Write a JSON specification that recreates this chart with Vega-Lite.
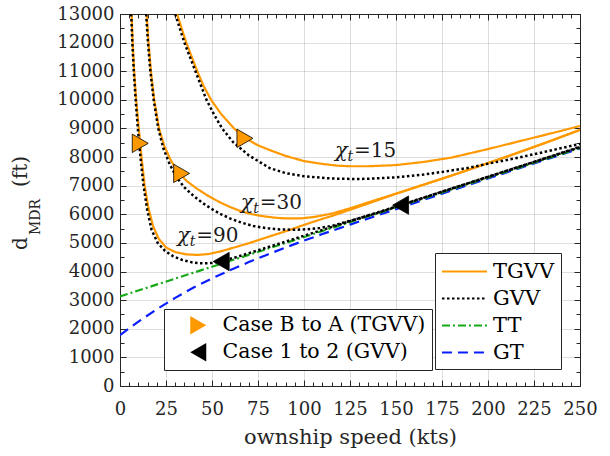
{
  "$schema": "https://vega.github.io/schema/vega-lite/v6.json",
  "width": 460,
  "height": 372,
  "autosize": "none",
  "padding": {"left": 120, "top": 14, "right": 30, "bottom": 70},
  "background": "white",
  "config": {
    "font": "DejaVu Serif",
    "view": {"stroke": "#262626", "strokeWidth": 1},
    "axis": {
      "labelFont": "DejaVu Serif", "labelFontSize": 18, "labelColor": "#262626",
      "domainColor": "#262626", "tickColor": "#262626", "gridColor": "#000000",
      "titleFont": "DejaVu Serif", "titleFontSize": 21, "titleFontWeight": "normal", "titleColor": "#262626",
      "labelOverlap": false, "labelFlush": false
    },
    "legend": {"labelFont": "DejaVu Serif", "labelColor": "#000000", "labelFontSize": 20.5, "labelLimit": 400}
  },
  "datasets": {
    "curves": [
      {"s":"GT","c":"GT","x":0,"y":1780},{"s":"GT","c":"GT","x":10,"y":2250},{"s":"GT","c":"GT","x":20,"y":2680},{"s":"GT","c":"GT","x":30,"y":3080},{"s":"GT","c":"GT","x":40,"y":3440},{"s":"GT","c":"GT","x":50,"y":3760},{"s":"GT","c":"GT","x":60,"y":4050},{"s":"GT","c":"GT","x":70,"y":4330},{"s":"GT","c":"GT","x":80,"y":4590},{"s":"GT","c":"GT","x":90,"y":4840},{"s":"GT","c":"GT","x":100,"y":5080},{"s":"GT","c":"GT","x":110,"y":5310},{"s":"GT","c":"GT","x":125,"y":5640},{"s":"GT","c":"GT","x":150,"y":6180},{"s":"GT","c":"GT","x":175,"y":6720},{"s":"GT","c":"GT","x":200,"y":7250},{"s":"GT","c":"GT","x":225,"y":7780},{"s":"GT","c":"GT","x":250,"y":8300},
      {"s":"TT","c":"TT","x":0,"y":3130},{"s":"TT","c":"TT","x":250,"y":8320},
      {"s":"TGVV","c":"T15","x":31,"y":13000},{"s":"TGVV","c":"T15","x":33.5,"y":12500},{"s":"TGVV","c":"T15","x":36,"y":12000},{"s":"TGVV","c":"T15","x":39,"y":11500},{"s":"TGVV","c":"T15","x":42,"y":11000},{"s":"TGVV","c":"T15","x":45.3,"y":10500},{"s":"TGVV","c":"T15","x":49.5,"y":10000},{"s":"TGVV","c":"T15","x":55,"y":9500},{"s":"TGVV","c":"T15","x":62,"y":9000},{"s":"TGVV","c":"T15","x":68,"y":8660},{"s":"TGVV","c":"T15","x":75,"y":8410},{"s":"TGVV","c":"T15","x":82,"y":8230},{"s":"TGVV","c":"T15","x":90,"y":8040},{"s":"TGVV","c":"T15","x":100,"y":7860},{"s":"TGVV","c":"T15","x":110,"y":7760},{"s":"TGVV","c":"T15","x":118,"y":7700},{"s":"TGVV","c":"T15","x":125,"y":7680},{"s":"TGVV","c":"T15","x":135,"y":7680},{"s":"TGVV","c":"T15","x":150,"y":7720},{"s":"TGVV","c":"T15","x":165,"y":7830},{"s":"TGVV","c":"T15","x":180,"y":7980},{"s":"TGVV","c":"T15","x":190,"y":8130},{"s":"TGVV","c":"T15","x":200,"y":8280},{"s":"TGVV","c":"T15","x":215,"y":8520},{"s":"TGVV","c":"T15","x":230,"y":8760},{"s":"TGVV","c":"T15","x":240,"y":8920},{"s":"TGVV","c":"T15","x":250,"y":9085},
      {"s":"TGVV","c":"T30","x":14.5,"y":13000},{"s":"TGVV","c":"T30","x":15.5,"y":12000},{"s":"TGVV","c":"T30","x":16.8,"y":11000},{"s":"TGVV","c":"T30","x":18.6,"y":10000},{"s":"TGVV","c":"T30","x":21.2,"y":9000},{"s":"TGVV","c":"T30","x":24,"y":8400},{"s":"TGVV","c":"T30","x":27.5,"y":7900},{"s":"TGVV","c":"T30","x":31.5,"y":7480},{"s":"TGVV","c":"T30","x":36.5,"y":7150},{"s":"TGVV","c":"T30","x":41.7,"y":6900},{"s":"TGVV","c":"T30","x":48,"y":6640},{"s":"TGVV","c":"T30","x":54.3,"y":6420},{"s":"TGVV","c":"T30","x":60,"y":6250},{"s":"TGVV","c":"T30","x":65.2,"y":6120},{"s":"TGVV","c":"T30","x":70,"y":6030},{"s":"TGVV","c":"T30","x":76,"y":5950},{"s":"TGVV","c":"T30","x":83,"y":5890},{"s":"TGVV","c":"T30","x":90,"y":5855},{"s":"TGVV","c":"T30","x":98,"y":5855},{"s":"TGVV","c":"T30","x":106,"y":5910},{"s":"TGVV","c":"T30","x":116,"y":6040},{"s":"TGVV","c":"T30","x":126,"y":6230},{"s":"TGVV","c":"T30","x":136,"y":6440},{"s":"TGVV","c":"T30","x":150,"y":6720},{"s":"TGVV","c":"T30","x":160,"y":6930},{"s":"TGVV","c":"T30","x":170,"y":7140},{"s":"TGVV","c":"T30","x":180,"y":7350},{"s":"TGVV","c":"T30","x":190,"y":7570},{"s":"TGVV","c":"T30","x":200,"y":7790},{"s":"TGVV","c":"T30","x":210,"y":8010},{"s":"TGVV","c":"T30","x":220,"y":8240},{"s":"TGVV","c":"T30","x":230,"y":8470},{"s":"TGVV","c":"T30","x":240,"y":8710},{"s":"TGVV","c":"T30","x":250,"y":8950},
      {"s":"TGVV","c":"T90","x":6.3,"y":13000},{"s":"TGVV","c":"T90","x":6.9,"y":12000},{"s":"TGVV","c":"T90","x":7.7,"y":11000},{"s":"TGVV","c":"T90","x":8.8,"y":10000},{"s":"TGVV","c":"T90","x":10.2,"y":9000},{"s":"TGVV","c":"T90","x":11.7,"y":8000},{"s":"TGVV","c":"T90","x":13.4,"y":7000},{"s":"TGVV","c":"T90","x":15.5,"y":6200},{"s":"TGVV","c":"T90","x":18,"y":5580},{"s":"TGVV","c":"T90","x":21,"y":5150},{"s":"TGVV","c":"T90","x":25,"y":4840},{"s":"TGVV","c":"T90","x":30,"y":4680},{"s":"TGVV","c":"T90","x":36,"y":4600},{"s":"TGVV","c":"T90","x":42,"y":4580},{"s":"TGVV","c":"T90","x":48,"y":4610},{"s":"TGVV","c":"T90","x":55,"y":4710},{"s":"TGVV","c":"T90","x":62,"y":4840},{"s":"TGVV","c":"T90","x":70,"y":4990},{"s":"TGVV","c":"T90","x":80,"y":5200},{"s":"TGVV","c":"T90","x":92,"y":5450},{"s":"TGVV","c":"T90","x":100,"y":5630},{"s":"TGVV","c":"T90","x":108,"y":5800},{"s":"TGVV","c":"T90","x":116,"y":5960},{"s":"TGVV","c":"T90","x":126,"y":6180},{"s":"TGVV","c":"T90","x":136,"y":6400},{"s":"TGVV","c":"T90","x":150,"y":6720},{"s":"TGVV","c":"T90","x":160,"y":6930},{"s":"TGVV","c":"T90","x":170,"y":7140},{"s":"TGVV","c":"T90","x":180,"y":7350},{"s":"TGVV","c":"T90","x":190,"y":7570},{"s":"TGVV","c":"T90","x":200,"y":7790},{"s":"TGVV","c":"T90","x":210,"y":8010},{"s":"TGVV","c":"T90","x":220,"y":8240},{"s":"TGVV","c":"T90","x":230,"y":8470},{"s":"TGVV","c":"T90","x":240,"y":8710},{"s":"TGVV","c":"T90","x":250,"y":8950},
      {"s":"GVV","c":"G15","x":30,"y":13000},{"s":"GVV","c":"G15","x":32.5,"y":12500},{"s":"GVV","c":"G15","x":35,"y":12000},{"s":"GVV","c":"G15","x":38,"y":11500},{"s":"GVV","c":"G15","x":41,"y":11000},{"s":"GVV","c":"G15","x":44,"y":10500},{"s":"GVV","c":"G15","x":47,"y":10000},{"s":"GVV","c":"G15","x":51,"y":9500},{"s":"GVV","c":"G15","x":55.5,"y":9000},{"s":"GVV","c":"G15","x":61.5,"y":8520},{"s":"GVV","c":"G15","x":70,"y":8060},{"s":"GVV","c":"G15","x":81.5,"y":7610},{"s":"GVV","c":"G15","x":90,"y":7440},{"s":"GVV","c":"G15","x":100,"y":7330},{"s":"GVV","c":"G15","x":115,"y":7250},{"s":"GVV","c":"G15","x":130,"y":7230},{"s":"GVV","c":"G15","x":150,"y":7290},{"s":"GVV","c":"G15","x":165,"y":7390},{"s":"GVV","c":"G15","x":175,"y":7480},{"s":"GVV","c":"G15","x":190,"y":7630},{"s":"GVV","c":"G15","x":200,"y":7770},{"s":"GVV","c":"G15","x":215,"y":7960},{"s":"GVV","c":"G15","x":230,"y":8170},{"s":"GVV","c":"G15","x":250,"y":8460},
      {"s":"GVV","c":"G30","x":14.2,"y":13000},{"s":"GVV","c":"G30","x":15.2,"y":12000},{"s":"GVV","c":"G30","x":16.5,"y":11000},{"s":"GVV","c":"G30","x":18.3,"y":10000},{"s":"GVV","c":"G30","x":20.8,"y":9000},{"s":"GVV","c":"G30","x":23.6,"y":8300},{"s":"GVV","c":"G30","x":27,"y":7750},{"s":"GVV","c":"G30","x":30.5,"y":7320},{"s":"GVV","c":"G30","x":35,"y":6940},{"s":"GVV","c":"G30","x":40,"y":6640},{"s":"GVV","c":"G30","x":45,"y":6390},{"s":"GVV","c":"G30","x":50,"y":6180},{"s":"GVV","c":"G30","x":55,"y":6000},{"s":"GVV","c":"G30","x":60,"y":5850},{"s":"GVV","c":"G30","x":66,"y":5710},{"s":"GVV","c":"G30","x":72.5,"y":5590},{"s":"GVV","c":"G30","x":80,"y":5510},{"s":"GVV","c":"G30","x":87,"y":5470},{"s":"GVV","c":"G30","x":95,"y":5460},{"s":"GVV","c":"G30","x":102,"y":5480},{"s":"GVV","c":"G30","x":108.7,"y":5520},{"s":"GVV","c":"G30","x":116,"y":5610},{"s":"GVV","c":"G30","x":122,"y":5720},{"s":"GVV","c":"G30","x":130,"y":5860},{"s":"GVV","c":"G30","x":140,"y":6050},{"s":"GVV","c":"G30","x":150,"y":6260},{"s":"GVV","c":"G30","x":160,"y":6470},{"s":"GVV","c":"G30","x":175,"y":6790},{"s":"GVV","c":"G30","x":200,"y":7310},{"s":"GVV","c":"G30","x":225,"y":7830},{"s":"GVV","c":"G30","x":250,"y":8360},
      {"s":"GVV","c":"G90","x":6.1,"y":13000},{"s":"GVV","c":"G90","x":6.7,"y":12000},{"s":"GVV","c":"G90","x":7.5,"y":11000},{"s":"GVV","c":"G90","x":8.5,"y":10000},{"s":"GVV","c":"G90","x":9.7,"y":9000},{"s":"GVV","c":"G90","x":11.1,"y":8000},{"s":"GVV","c":"G90","x":12.8,"y":7000},{"s":"GVV","c":"G90","x":14.8,"y":6150},{"s":"GVV","c":"G90","x":17.2,"y":5450},{"s":"GVV","c":"G90","x":20.5,"y":5000},{"s":"GVV","c":"G90","x":24.5,"y":4720},{"s":"GVV","c":"G90","x":29,"y":4530},{"s":"GVV","c":"G90","x":34,"y":4400},{"s":"GVV","c":"G90","x":40,"y":4310},{"s":"GVV","c":"G90","x":45,"y":4285},{"s":"GVV","c":"G90","x":50,"y":4300},{"s":"GVV","c":"G90","x":55,"y":4370},{"s":"GVV","c":"G90","x":62,"y":4480},{"s":"GVV","c":"G90","x":70,"y":4640},{"s":"GVV","c":"G90","x":80,"y":4840},{"s":"GVV","c":"G90","x":100,"y":5250},{"s":"GVV","c":"G90","x":125,"y":5760},{"s":"GVV","c":"G90","x":150,"y":6270},{"s":"GVV","c":"G90","x":175,"y":6790},{"s":"GVV","c":"G90","x":200,"y":7310},{"s":"GVV","c":"G90","x":225,"y":7830},{"s":"GVV","c":"G90","x":250,"y":8345}
    ],
    "markers": [
      {"k":"Case B to A (TGVV)","x":11,"y":8480},
      {"k":"Case B to A (TGVV)","x":33.5,"y":7430},
      {"k":"Case B to A (TGVV)","x":67.9,"y":8655},
      {"k":"Case 1 to 2 (GVV)","x":55,"y":4350},
      {"k":"Case 1 to 2 (GVV)","x":152.5,"y":6320}
    ],
    "labels": [
      {"chi":"χ","sub":"t","val":"=15","x":116.8,"y":8010},
      {"chi":"χ","sub":"t","val":"=30","x":65.6,"y":6200},
      {"chi":"χ","sub":"t","val":"=90","x":31.1,"y":5040}
    ]
  },
  "layer": [
    {
      "data": {"name": "curves"},
      "encoding": {
        "x": {"field": "x", "type": "quantitative", "scale": {"domain": [0, 250], "nice": false, "zero": false},
          "axis": {"orient": "bottom", "title": "ownship speed (kts)", "titlePadding": 6,
            "values": [0,5,10,15,20,25,30,35,40,45,50,55,60,65,70,75,80,85,90,95,100,105,110,115,120,125,130,135,140,145,150,155,160,165,170,175,180,185,190,195,200,205,210,215,220,225,230,235,240,245,250],
            "labelExpr": "datum.value % 25 === 0 ? datum.label : ''",
            "grid": true,
            "gridOpacity": {"condition": {"test": "datum.value % 25 === 0", "value": 0.13}, "value": 0},
            "tickSize": {"condition": {"test": "datum.value % 25 === 0", "value": -6}, "value": -4},
            "labelPadding": 20}},
        "y": {"field": "y", "type": "quantitative", "scale": {"domain": [0, 13000], "nice": false},
          "axis": {"orient": "left", "title": null, "format": "d",
            "values": [0,500,1000,1500,2000,2500,3000,3500,4000,4500,5000,5500,6000,6500,7000,7500,8000,8500,9000,9500,10000,10500,11000,11500,12000,12500,13000],
            "labelExpr": "datum.value % 1000 === 0 ? datum.label : ''",
            "grid": true,
            "gridOpacity": {"condition": {"test": "datum.value % 1000 === 0", "value": 0.13}, "value": 0},
            "tickSize": {"condition": {"test": "datum.value % 1000 === 0", "value": -6}, "value": -4},
            "labelPadding": 12}},
        "color": {"field": "s", "type": "nominal",
          "scale": {"domain": ["TGVV", "GVV", "TT", "GT"], "range": ["#FF9900", "#000000", "#17A817", "#0A1EFF"]},
          "legend": {"orient": "none", "legendX": 315, "legendY": 239, "title": null, "symbolType": "M-2,0H2", "symbolSize": 506, "symbolStrokeWidth": 2.2, "symbolOffset": 11, "padding": 6, "rowPadding": 4, "labelOffset": 16, "strokeColor": "#262626", "fillColor": "white", "labelFontSize": 21}},
        "strokeDash": {"field": "s", "type": "nominal",
          "scale": {"domain": ["TGVV", "GVV", "TT", "GT"], "range": [[1, 0], [2.5, 2.5], [8, 3, 2, 3], [10, 6]]},
          "legend": {"orient": "none", "legendX": 315, "legendY": 239, "title": null, "symbolType": "M-2,0H2", "symbolSize": 506, "symbolStrokeWidth": 2.2, "symbolOffset": 11, "padding": 6, "rowPadding": 4, "labelOffset": 16, "strokeColor": "#262626", "fillColor": "white", "labelFontSize": 21}},
        "detail": {"field": "c", "type": "nominal"}
      },
      "layer": [
        {"transform": [{"filter": "datum.s === 'GT'"}], "mark": {"type": "line", "strokeWidth": 2.2, "clip": true}},
        {"transform": [{"filter": "datum.s === 'TT'"}], "mark": {"type": "line", "strokeWidth": 2.2, "clip": true}},
        {"transform": [{"filter": "datum.s === 'TGVV'"}], "mark": {"type": "line", "strokeWidth": 2.2, "clip": true}},
        {"transform": [{"filter": "datum.s === 'GVV'"}], "mark": {"type": "line", "strokeWidth": 2.5, "clip": true}}
      ]
    },
    {
      "data": {"name": "markers"},
      "mark": {"type": "point", "filled": true, "stroke": "#000000", "strokeWidth": 0.8, "size": 340, "opacity": 1},
      "encoding": {
        "x": {"field": "x", "type": "quantitative", "scale": {"domain": [0, 250], "nice": false, "zero": false},
          "axis": {"orient": "top", "title": null, "labels": false, "grid": false, "domain": true,
            "values": [0,5,10,15,20,25,30,35,40,45,50,55,60,65,70,75,80,85,90,95,100,105,110,115,120,125,130,135,140,145,150,155,160,165,170,175,180,185,190,195,200,205,210,215,220,225,230,235,240,245,250],
            "tickSize": {"condition": {"test": "datum.value % 25 === 0", "value": -6}, "value": -4}}},
        "y": {"field": "y", "type": "quantitative", "scale": {"domain": [0, 13000], "nice": false},
          "axis": {"orient": "right", "title": null, "labels": false, "grid": false, "domain": true,
            "values": [0,500,1000,1500,2000,2500,3000,3500,4000,4500,5000,5500,6000,6500,7000,7500,8000,8500,9000,9500,10000,10500,11000,11500,12000,12500,13000],
            "tickSize": {"condition": {"test": "datum.value % 1000 === 0", "value": -6}, "value": -4}}},
        "shape": {"field": "k", "type": "nominal",
          "scale": {"domain": ["Case B to A (TGVV)", "Case 1 to 2 (GVV)"], "range": ["triangle-right", "triangle-left"]},
          "legend": {"orient": "none", "legendX": 44, "legendY": 295, "title": null, "symbolSize": 340, "symbolStrokeColor": "#000000", "symbolStrokeWidth": 0.8, "padding": 6, "rowPadding": 4, "labelOffset": 14, "symbolOffset": 18, "strokeColor": "#262626", "fillColor": "white", "labelFontSize": 20.5, "labelLimit": 400}},
        "fill": {"field": "k", "type": "nominal",
          "scale": {"domain": ["Case B to A (TGVV)", "Case 1 to 2 (GVV)"], "range": ["#FF9900", "#000000"]},
          "legend": {"orient": "none", "legendX": 44, "legendY": 295, "title": null, "symbolSize": 340, "symbolStrokeColor": "#000000", "symbolStrokeWidth": 0.8, "padding": 6, "rowPadding": 4, "labelOffset": 14, "symbolOffset": 18, "strokeColor": "#262626", "fillColor": "white", "labelFontSize": 20.5, "labelLimit": 400}}
      }
    },
    {
      "data": {"name": "labels"},
      "mark": {"type": "text", "align": "left", "baseline": "alphabetic", "fontSize": 21, "fontStyle": "italic", "font": "DejaVu Serif", "color": "#1a1a1a"},
      "encoding": {
        "x": {"field": "x", "type": "quantitative", "axis": null},
        "y": {"field": "y", "type": "quantitative", "axis": null},
        "text": {"field": "chi"}
      }
    },
    {
      "data": {"name": "labels"},
      "mark": {"type": "text", "align": "left", "baseline": "alphabetic", "fontSize": 14, "fontStyle": "italic", "font": "DejaVu Serif", "dx": 12.5, "dy": 4, "color": "#1a1a1a"},
      "encoding": {
        "x": {"field": "x", "type": "quantitative", "axis": null},
        "y": {"field": "y", "type": "quantitative", "axis": null},
        "text": {"field": "sub"}
      }
    },
    {
      "data": {"name": "labels"},
      "mark": {"type": "text", "align": "left", "baseline": "alphabetic", "fontSize": 20, "font": "DejaVu Serif", "dx": 19, "color": "#1a1a1a"},
      "encoding": {
        "x": {"field": "x", "type": "quantitative", "axis": null},
        "y": {"field": "y", "type": "quantitative", "axis": null},
        "text": {"field": "val"}
      }
    },
    {
      "data": {"values": [{"t": "d"}]},
      "mark": {"type": "text", "angle": 270, "align": "left", "baseline": "alphabetic", "fontSize": 20, "font": "DejaVu Serif", "dy": -93, "color": "#262626"},
      "encoding": {
        "x": {"datum": 0, "type": "quantitative", "axis": null},
        "y": {"datum": 4750, "type": "quantitative", "axis": null},
        "text": {"field": "t"}
      }
    },
    {
      "data": {"values": [{"t": "MDR"}]},
      "mark": {"type": "text", "angle": 270, "align": "left", "baseline": "alphabetic", "fontSize": 14, "font": "DejaVu Serif", "dy": -80, "color": "#262626"},
      "encoding": {
        "x": {"datum": 0, "type": "quantitative", "axis": null},
        "y": {"datum": 5277, "type": "quantitative", "axis": null},
        "text": {"field": "t"}
      }
    },
    {
      "data": {"values": [{"t": "(ft)"}]},
      "mark": {"type": "text", "angle": 270, "align": "left", "baseline": "alphabetic", "fontSize": 20, "font": "DejaVu Serif", "dy": -93, "color": "#262626"},
      "encoding": {
        "x": {"datum": 0, "type": "quantitative", "axis": null},
        "y": {"datum": 6954, "type": "quantitative", "axis": null},
        "text": {"field": "t"}
      }
    }
  ],
  "resolve": {"axis": {"x": "independent", "y": "independent"}}
}
